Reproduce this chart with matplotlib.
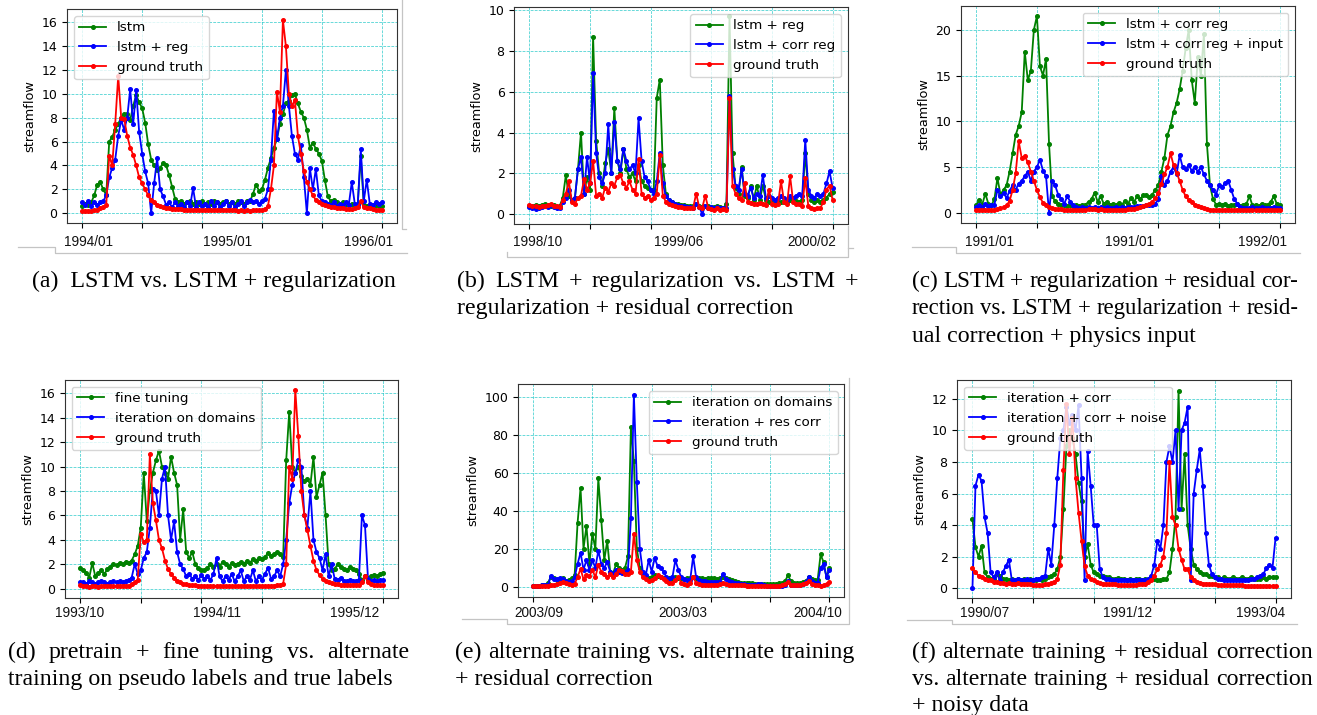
import numpy as np
import matplotlib
matplotlib.use("Agg")
import matplotlib.pyplot as plt
from matplotlib.lines import Line2D

# ---------------- data (101 samples per series) -------------
a_lstm = [0.6, 0.8, 0.7, 0.9, 1.5, 2.4, 2.6, 2.0, 1.5, 6.0,
          6.4, 7.0, 7.5, 8.0, 8.3, 8.3, 7.8, 9.0, 9.9, 9.3,
          8.8, 7.6, 5.8, 4.5, 4.0, 3.6, 3.8, 4.2, 4.0, 3.2,
          2.2, 1.2, 0.9, 1.0, 0.8, 0.9, 1.0, 0.8, 0.9, 0.8,
          1.0, 0.8, 0.9, 0.8, 1.0, 0.9, 0.8, 0.9, 1.0, 0.8,
          0.9, 0.8, 1.0, 0.9, 0.8, 1.0, 1.0, 1.6, 2.4, 1.9,
          2.0, 2.8, 3.8, 4.6, 5.5, 6.2, 7.5, 8.3, 9.2, 9.4,
          9.9, 10.0, 9.2, 8.5, 8.0, 7.0, 5.5, 5.9, 5.4, 5.0,
          4.4, 2.8, 1.4, 1.0, 1.1, 0.9, 0.8, 0.9, 0.8, 0.7,
          0.8, 0.7, 0.8, 4.8, 0.7, 0.6, 0.7, 0.6, 0.7, 0.6, 0.6]
a_lstm_reg = [0.9, 0.7, 1.0, 0.6, 0.9, 0.7, 0.9, 1.0, 1.5, 3.0,
              3.8, 4.5, 6.5, 7.8, 7.0, 8.0, 10.4, 7.5, 10.3, 6.8,
              5.0, 3.5, 2.5, 0.0, 2.5, 4.6, 2.0, 1.4, 0.7, 0.9,
              0.5, 0.9, 0.6, 0.8, 0.5, 0.9, 0.6, 2.1, 0.5, 0.9,
              0.6, 0.8, 0.5, 1.0, 0.6, 0.9, 0.5, 0.8, 1.0, 0.6,
              0.9, 0.5, 0.8, 1.0, 0.6, 0.9, 1.1, 0.9, 1.0, 0.8,
              1.0, 1.2, 2.0, 4.5, 8.6, 6.2, 8.0, 9.0, 12.0, 9.0,
              6.5, 5.0, 4.5, 5.7, 3.0, 0.0, 3.8, 2.0, 3.7, 1.5,
              1.0, 0.9, 0.8, 0.7, 0.9, 0.6, 0.8, 0.7, 0.9, 0.7,
              2.6, 0.8, 0.7, 5.4, 1.0, 2.8, 0.8, 0.7, 0.9, 0.8, 0.9]
a_truth = [0.2, 0.2, 0.2, 0.2, 0.25, 0.3, 0.4, 0.5, 0.7, 4.8,
           4.0, 7.5, 11.5, 8.0, 7.9, 6.5, 5.5, 4.9, 4.0, 3.0,
           2.5, 2.0, 1.5, 1.1, 0.9, 0.7, 0.6, 0.5, 0.45, 0.4,
           0.38, 0.35, 0.33, 0.32, 0.3, 0.3, 0.28, 0.28, 0.27, 0.27,
           0.25, 0.26, 0.25, 0.24, 0.25, 0.24, 0.23, 0.25, 0.24, 0.23,
           0.24, 0.23, 0.22, 0.23, 0.22, 0.23, 0.22, 0.23, 0.24, 0.25,
           0.28, 0.35, 0.6, 2.0, 4.0, 10.2, 8.5, 16.2, 14.0, 10.0,
           9.0, 9.5, 6.5, 5.0, 3.5, 2.6, 2.0, 1.5, 1.1, 0.9,
           0.8, 0.7, 0.62, 0.55, 0.5, 0.45, 0.42, 0.4, 0.38, 0.36,
           0.35, 0.4, 0.5, 1.0, 0.5, 0.45, 0.4, 0.35, 0.3, 0.3, 0.25]

b_reg = [0.4, 0.4, 0.45, 0.4, 0.45, 0.5, 0.45, 0.4, 0.45, 0.35,
         0.4, 0.8, 1.9, 0.9, 0.7, 0.8, 2.2, 4.0, 1.0, 1.8,
         1.2, 8.7, 3.6, 2.0, 1.4, 2.5, 3.2, 2.0, 5.2, 2.6,
         2.0, 3.2, 2.2, 1.8, 2.0, 1.6, 2.4, 1.6, 1.4, 1.3,
         1.2, 1.2, 5.7, 6.6, 2.4, 1.0, 0.7, 0.6, 0.5, 0.5,
         0.45, 0.45, 0.4, 0.4, 0.4, 0.5, 0.4, 0.35, 0.4, 0.4,
         0.35, 0.35, 0.4, 0.35, 0.3, 0.5, 9.7, 3.0, 1.3, 1.0,
         2.3, 0.9, 0.8, 1.4, 0.7, 1.4, 0.7, 1.4, 0.7, 0.6,
         0.6, 0.55, 0.6, 0.6, 0.6, 0.6, 0.7, 0.7, 0.65, 0.6,
         0.7, 3.0, 1.0, 0.7, 0.6, 0.7, 0.6, 0.7, 0.8, 1.0, 1.1]
b_corr_reg = [0.35, 0.3, 0.25, 0.3, 0.35, 0.4, 0.35, 0.45, 0.35, 0.3,
              0.3, 0.6, 0.8, 1.2, 0.7, 0.8, 2.2, 2.8, 1.0, 2.8,
              1.5, 6.9, 3.0, 1.8, 1.5, 2.0, 4.4, 2.0, 4.5, 2.6,
              2.2, 3.2, 2.6, 2.2, 2.4, 2.0, 4.7, 2.6, 1.8, 1.6,
              1.2, 1.0, 1.6, 3.0, 1.5, 0.9, 0.7, 0.6, 0.5, 0.45,
              0.4, 0.4, 0.35, 0.35, 0.3, 0.5, 0.35, 0.0, 0.4, 0.3,
              0.35, 0.3, 0.35, 0.3, 0.3, 0.3, 5.8, 2.2, 1.4, 1.2,
              2.2, 1.0, 0.9, 1.3, 0.8, 1.0, 0.9, 1.9, 0.8, 0.9,
              0.8, 0.7, 0.8, 0.9, 0.8, 0.7, 0.9, 0.8, 0.9, 1.0,
              0.9, 3.65, 1.2, 0.9, 0.8, 1.0, 0.9, 1.0, 1.5, 2.1, 1.3]
b_truth = [0.45, 0.4, 0.38, 0.35, 0.4, 0.38, 0.42, 0.5, 0.4, 0.38,
           0.35, 0.7, 1.0, 1.6, 0.6, 0.5, 0.8, 0.9, 1.7, 1.2,
           1.5, 2.6, 0.9, 1.0, 0.8, 1.3, 1.1, 1.5, 1.4, 1.8,
           1.9, 1.5, 1.3, 1.6, 1.2, 1.0, 2.7, 1.0, 0.8, 0.9,
           0.7, 0.8, 1.0, 2.9, 0.9, 0.6, 0.5, 0.45, 0.4, 0.35,
           0.35, 0.3, 0.3, 0.3, 0.3, 1.0, 0.35, 0.3, 0.9, 0.3,
           0.25, 0.2, 0.3, 0.2, 0.25, 0.2, 5.7, 1.4, 1.0, 0.8,
           0.7, 1.5, 0.6, 0.55, 0.5, 0.5, 0.55, 0.5, 0.45, 1.2,
           0.5, 0.45, 0.5, 1.6, 0.6, 0.5, 1.85, 0.6, 0.5, 0.5,
           0.4, 1.75, 0.4, 0.3, 0.25, 0.3, 0.3, 0.6, 1.2, 1.4, 0.7]

c_corr_reg = [0.8, 1.4, 0.9, 2.1, 1.0, 0.8, 1.5, 3.8, 2.0, 2.5,
              3.0, 4.5, 6.5, 8.5, 9.5, 11.0, 17.6, 14.5, 15.5, 20.0,
              21.5, 16.0, 15.0, 16.8, 7.5, 1.8, 1.3, 1.0, 0.8, 0.8,
              0.7, 0.8, 0.7, 0.8, 0.7, 0.8, 0.9, 1.2, 1.5, 2.2,
              1.2, 1.8, 1.0, 1.2, 0.9, 1.0, 0.8, 1.1, 0.9, 1.3,
              1.0, 1.6, 1.2, 1.8, 1.5, 1.9, 2.0, 1.7, 2.0, 2.5,
              3.0, 4.5, 6.0, 8.5, 9.5, 11.0, 12.0, 13.5, 15.5, 18.0,
              20.0, 14.5, 12.0, 17.0, 15.0, 19.5, 7.5, 3.0, 1.5, 0.9,
              1.0, 0.8, 1.0, 0.7, 0.9, 0.8, 1.0, 0.7, 0.9, 1.0,
              1.8, 0.8, 0.9, 0.7, 1.0, 0.8, 0.9, 1.2, 1.8, 1.0, 0.8]
c_corr_input = [0.6, 0.8, 0.6, 1.0, 0.7, 0.8, 0.9, 2.5, 1.8, 2.2,
                1.6, 2.4, 3.0, 2.5, 3.2, 3.5, 4.0, 4.5, 3.5, 4.5,
                5.0, 5.8, 4.6, 4.0, 0.0, 3.5, 3.0, 2.0, 1.5, 1.0,
                1.8, 1.2, 0.8, 0.6, 0.5, 0.6, 0.5, 0.6, 0.5, 0.6,
                0.5, 0.6, 0.5, 0.6, 0.5, 0.5, 0.6, 0.5, 0.6, 0.5,
                0.6, 0.6, 0.6, 0.7, 0.7, 0.7, 0.8, 0.8, 0.9, 1.0,
                1.5, 4.0, 3.0, 3.5, 4.5, 5.0, 4.2, 6.3, 5.0, 4.8,
                5.2, 4.6, 5.0, 4.5, 5.0, 4.2, 3.5, 3.0, 2.5, 2.0,
                3.0, 2.8, 3.3, 3.5, 2.5, 1.5, 1.0, 0.6, 0.5, 0.5,
                0.5, 0.6, 0.5, 0.5, 0.6, 0.5, 0.5, 0.5, 0.6, 0.5, 0.5]
c_truth = [0.3, 0.3, 0.3, 0.35, 0.3, 0.3, 0.35, 0.4, 0.5, 0.6,
           0.8, 1.3, 2.5, 4.3, 7.8, 6.0, 6.2, 5.5, 4.5, 3.5,
           2.5, 1.7, 1.1, 0.8, 0.6, 0.5, 0.45, 0.4, 0.4, 0.35,
           0.35, 0.3, 0.35, 0.3, 0.3, 0.35, 0.3, 0.4, 0.45, 0.4,
           0.35, 0.4, 0.35, 0.3, 0.35, 0.3, 0.3, 0.35, 0.3, 0.35,
           0.4, 0.4, 0.45, 0.5, 0.6, 0.7, 0.8, 1.0, 1.2, 1.6,
           2.2, 3.2, 4.2, 5.0, 6.5, 5.2, 4.4, 3.5, 2.5, 1.8,
           1.4, 1.2, 0.9, 0.7, 0.6, 0.5, 0.4, 0.35, 0.3, 0.3,
           0.35, 0.3, 0.3, 0.35, 0.3, 0.3, 0.35, 0.3, 0.3, 0.3,
           0.35, 0.3, 0.3, 0.3, 0.35, 0.3, 0.3, 0.3, 0.35, 0.3, 0.35]

d_fine = [1.7, 1.5, 1.3, 0.9, 2.1, 1.0, 1.3, 1.5, 1.2, 1.6,
          1.8, 2.0, 1.9, 2.1, 2.0, 2.2, 2.1, 2.3, 2.8, 3.5,
          5.0, 9.5, 5.5, 8.0, 9.5, 10.5, 11.3, 10.0, 9.5, 9.0,
          10.8, 9.5, 8.5, 4.0, 6.5, 3.0, 2.5, 3.0, 2.0, 1.7,
          1.5, 1.5, 1.7, 2.0, 1.8, 2.0, 1.8, 2.2, 2.0, 1.8,
          2.1, 1.9, 2.0, 2.2, 2.0, 2.3, 2.1, 2.4, 2.3, 2.5,
          2.4, 2.6, 2.9, 2.7, 2.8, 3.0, 2.8, 2.6, 10.5, 14.5,
          10.0, 9.5, 10.0, 9.2, 8.8, 9.0, 8.5, 10.8, 7.5, 8.5,
          9.5, 6.0, 2.0, 1.5, 1.6, 2.0, 1.8, 1.6, 1.5, 1.8,
          1.6, 1.5, 1.2, 0.7, 1.0, 0.9, 1.0, 1.1, 1.0, 1.2, 1.3]
d_iter = [0.5, 0.5, 0.4, 0.6, 0.5, 0.4, 0.5, 0.6, 0.5, 0.4,
          0.5, 0.6, 0.5, 0.6, 0.5, 0.6, 0.7, 0.9, 2.0, 1.2,
          1.5, 2.5, 3.0, 5.0, 8.2, 8.0, 6.0, 9.0, 10.0, 6.0,
          4.0, 5.5, 3.0, 2.0, 1.6, 1.0, 1.2, 0.8, 1.0, 0.7,
          1.1, 0.8, 1.0, 0.7, 1.2, 2.5, 1.0, 0.6, 1.0, 0.7,
          1.2, 0.6, 1.0, 1.5, 0.6, 1.0, 0.7, 1.5, 0.6, 1.0,
          0.7, 1.2, 1.7, 0.8, 1.0, 1.5, 1.0, 2.0, 4.0, 7.0,
          8.5, 9.5, 10.5, 10.0, 6.0, 5.0, 8.0, 4.0, 3.0, 2.5,
          1.5, 2.8, 1.0, 2.0, 0.8, 0.7, 0.9, 0.6, 0.6, 0.7,
          0.6, 0.6, 0.7, 6.0, 5.2, 0.8, 0.6, 0.7, 0.6, 0.7, 0.7]
d_truth = [0.3, 0.25, 0.2, 0.15, 0.2, 0.2, 0.15, 0.2, 0.2, 0.2,
           0.2, 0.2, 0.2, 0.25, 0.2, 0.25, 0.25, 0.4, 0.5, 0.7,
           4.5, 3.8, 4.0, 11.0, 7.0, 5.6, 4.0, 3.3, 2.3, 1.6,
           1.2, 0.9, 0.6, 0.5, 0.4, 0.35, 0.3, 0.3, 0.28, 0.25,
           0.25, 0.22, 0.2, 0.22, 0.2, 0.2, 0.22, 0.2, 0.2, 0.22,
           0.2, 0.2, 0.22, 0.2, 0.2, 0.22, 0.2, 0.2, 0.22, 0.2,
           0.2, 0.22, 0.2, 0.22, 0.25, 0.3, 0.3, 0.4, 2.0, 10.0,
           9.0, 16.3, 12.5, 8.0, 6.0, 4.8, 3.5, 2.3, 1.5, 1.1,
           0.8, 0.6, 0.5, 0.45, 0.4, 0.35, 0.3, 0.3, 0.3, 0.28,
           0.3, 0.28, 0.3, 0.5, 1.0, 0.5, 0.35, 0.3, 0.28, 0.3, 0.3]

e_iter = [0.5, 0.5, 0.6, 0.8, 1.0, 2.0, 5.3, 4.5, 3.5, 4.0,
          4.5, 3.0, 3.5, 4.5, 6.0, 33.5, 52.0, 20.0, 32.0, 12.0,
          28.0, 20.0, 57.0, 35.0, 14.0, 24.0, 8.0, 7.0, 12.0, 10.0,
          9.0, 10.0, 16.0, 84.0, 66.0, 20.0, 10.0, 7.0, 5.0, 4.5,
          5.0, 6.0, 5.5, 5.0, 4.5, 4.5, 4.5, 4.0, 5.0, 4.5,
          4.5, 4.0, 4.5, 4.5, 5.0, 4.5, 4.5, 4.5, 4.0, 4.5,
          4.5, 4.5, 4.0, 4.5, 5.0, 4.5, 4.0, 3.5, 3.0, 2.5,
          2.0, 2.0, 2.0, 2.0, 1.8, 1.5, 1.5, 1.5, 1.5, 1.5,
          1.5, 1.5, 1.5, 1.8, 2.0, 3.0, 6.0, 3.0, 1.8, 1.8,
          2.0, 2.5, 3.0, 5.0, 4.0, 3.5, 3.5, 17.0, 13.0, 5.0, 10.0]
e_rescorr = [0.5, 0.5, 0.6, 0.7, 0.8, 1.0, 5.5, 4.0, 4.0, 4.5,
             4.0, 3.0, 2.5, 3.0, 5.0, 12.0, 18.0, 9.0, 14.0, 9.0,
             14.0, 10.0, 19.0, 12.0, 10.0, 13.0, 8.0, 7.0, 9.0, 8.0,
             7.5, 8.0, 9.0, 36.0, 101.0, 55.0, 20.0, 8.0, 6.0, 14.0,
             8.0, 15.0, 11.0, 10.0, 8.0, 5.0, 4.0, 5.0, 14.0, 9.0,
             5.0, 4.0, 3.5, 3.5, 16.0, 5.0, 3.5, 3.0, 3.0, 2.5,
             2.5, 2.5, 2.5, 2.5, 7.0, 4.0, 3.0, 2.5, 2.0, 1.8,
             1.5, 1.3, 1.2, 1.0, 1.0, 1.2, 1.5, 1.5, 0.8, 0.6,
             0.5, 0.5, 0.5, 0.5, 0.6, 1.0, 3.0, 1.0, 0.8, 0.8,
             1.0, 1.5, 2.5, 5.0, 3.0, 2.0, 2.0, 10.0, 12.0, 5.0, 9.0]
e_truth = [0.3, 0.2, 0.3, 0.4, 0.5, 0.6, 1.0, 1.2, 1.5, 2.0,
           2.5, 2.0, 1.5, 1.0, 1.5, 5.0, 9.5, 4.0, 6.0, 5.5,
           9.0, 5.0, 11.5, 8.0, 6.5, 5.0, 6.5, 5.0, 7.0, 9.0,
           8.5, 7.0, 6.5, 8.0, 28.0, 14.0, 8.0, 5.0, 4.0, 3.0,
           3.5, 4.5, 6.0, 5.0, 4.0, 3.0, 2.0, 1.8, 3.5, 5.0,
           2.0, 1.5, 1.2, 2.0, 5.0, 2.0, 1.5, 1.2, 1.0, 1.0,
           1.2, 1.0, 1.2, 1.5, 2.0, 1.5, 1.2, 1.0, 1.0, 0.8,
           0.8, 0.7, 0.6, 0.5, 0.5, 0.4, 0.4, 0.3, 0.3, 0.3,
           0.3, 0.4, 0.5, 0.6, 1.0, 1.5, 2.5, 1.0, 0.8, 0.8,
           1.0, 1.5, 2.0, 3.0, 1.5, 1.0, 0.8, 0.5, 0.8, 1.5, 2.5]

f_corr = [4.4, 2.6, 2.0, 2.7, 1.0, 0.7, 0.6, 0.6, 0.9, 0.8,
          0.6, 0.6, 0.5, 0.6, 0.5, 0.6, 0.5, 0.6, 0.5, 0.6,
          0.5, 0.5, 0.6, 0.5, 0.6, 0.7, 0.8, 0.9, 1.2, 2.0,
          5.0, 9.0, 10.0, 9.5, 8.5, 6.7, 5.5, 2.0, 2.8, 1.5,
          1.0, 0.9, 0.8, 0.8, 0.7, 0.7, 0.6, 0.6, 0.65, 0.6,
          0.6, 0.55, 0.6, 0.55, 0.6, 0.6, 0.55, 0.6, 0.55, 0.6,
          0.6, 0.55, 0.5, 0.6, 0.6, 1.0, 2.5, 4.5, 12.5, 5.0,
          8.5, 4.0, 2.5, 1.5, 1.2, 1.0, 0.9, 0.9, 0.8, 0.8,
          0.7, 0.7, 0.6, 0.7, 0.6, 0.6, 0.7, 0.6, 0.6, 0.7,
          0.6, 0.6, 0.7, 0.6, 0.6, 0.6, 0.7, 0.6, 0.7, 0.7, 0.7]
f_noise = [0.0, 6.5, 7.2, 6.8, 4.5, 3.5, 1.0, 0.7, 1.0, 0.5,
           1.0, 1.4, 1.8, 0.5, 0.5, 0.6, 0.5, 0.5, 0.6, 0.5,
           0.5, 0.6, 0.6, 0.7, 0.8, 2.5, 1.5, 4.0, 7.0, 9.5,
           10.0, 11.5, 10.5, 11.0, 10.0, 11.6, 7.0, 0.5, 8.7, 6.5,
           4.0, 4.0, 1.2, 0.7, 0.6, 0.6, 0.5, 0.55, 0.5, 0.5,
           0.55, 0.5, 0.5, 0.55, 0.5, 0.5, 0.55, 0.5, 0.6, 0.8,
           1.5, 3.0, 2.5, 4.0, 8.0, 9.0, 8.0, 10.0, 5.0, 10.0,
           10.5, 11.5, 0.5, 6.0, 7.5, 8.8, 6.5, 3.5, 1.5, 0.9,
           0.7, 0.6, 0.6, 0.55, 0.5, 0.55, 0.5, 0.5, 0.55, 0.5,
           0.55, 0.5, 0.6, 0.6, 0.7, 0.8, 0.9, 1.3, 1.5, 1.3, 3.2]
f_truth = [1.3, 1.0, 0.8, 0.7, 0.6, 0.5, 0.5, 0.4, 0.4, 0.35,
           0.35, 0.3, 0.35, 0.3, 0.3, 0.35, 0.3, 0.3, 0.25, 0.25,
           0.2, 0.2, 0.2, 0.2, 0.25, 0.3, 0.35, 0.4, 0.6, 1.5,
           7.5, 11.7, 8.5, 10.8, 7.0, 4.8, 3.0, 1.4, 0.8, 0.6,
           0.5, 0.4, 0.35, 0.3, 0.3, 0.28, 0.25, 0.25, 0.22, 0.22,
           0.2, 0.2, 0.22, 0.2, 0.22, 0.25, 0.28, 0.3, 0.4, 0.5,
           0.8, 1.2, 1.5, 2.0, 3.5, 8.0, 4.5, 4.0, 2.5, 1.8,
           1.2, 1.2, 0.7, 0.5, 0.4, 0.35, 0.3, 0.3, 0.28, 0.25,
           0.25, 0.22, 0.2, 0.2, 0.2, 0.2, 0.18, 0.18, 0.18, 0.18,
           0.15, 0.15, 0.15, 0.15, 0.15, 0.15, 0.15, 0.15, 0.15, 0.15, 0.15]

legend_labels = {
    'a': ['lstm', 'lstm + reg', 'ground truth'],
    'b': ['lstm + reg', 'lstm + corr reg', 'ground truth'],
    'c': ['lstm + corr reg', 'lstm + corr reg + input', 'ground truth'],
    'd': ['fine tuning', 'iteration on domains', 'ground truth'],
    'e': ['iteration on domains', 'iteration + res corr', 'ground truth'],
    'f': ['iteration + corr', 'iteration + corr + noise', 'ground truth'],
}
date_labels = {
    'a': ['1994/01', '1995/01', '1996/01'],
    'b': ['1998/10', '1999/06', '2000/02'],
    'c': ['1991/01', '1991/01', '1992/01'],
    'd': ['1993/10', '1994/11', '1995/12'],
    'e': ['2003/09', '2003/03', '2004/10'],
    'f': ['1990/07', '1991/12', '1993/04'],
}
series = {
    'a': [a_lstm, a_lstm_reg, a_truth],
    'b': [b_reg, b_corr_reg, b_truth],
    'c': [c_corr_reg, c_corr_input, c_truth],
    'd': [d_fine, d_iter, d_truth],
    'e': [e_iter, e_rescorr, e_truth],
    'f': [f_corr, f_noise, f_truth],
}
yticks = {
    'a': np.arange(0, 17, 2), 'b': np.arange(0, 11, 2), 'c': np.arange(0, 21, 5),
    'd': np.arange(0, 17, 2), 'e': np.arange(0, 101, 20), 'f': np.arange(0, 13, 2),
}

# ---------------- layout (pixels) ----------------
W, H = 1317, 715
fig = plt.figure(figsize=(W / 100, H / 100), dpi=100)

layout = {
    #      left,  top,  right, bottom, ylim,            legend loc
    'a': (67.3, 9.3, 396.7, 222.7, (-0.8, 17.1), 'upper left'),
    'b': (514.3, 7.3, 847.7, 224.0, (-0.49, 10.15), 'upper right'),
    'c': (961.0, 6.0, 1295.0, 222.7, (-1.08, 22.6), 'upper right'),
    'd': (65.0, 380.0, 398.3, 597.7, (-0.75, 17.1), 'upper left'),
    'e': (518.3, 384.3, 844.3, 596.7, (-5.2, 106.5), 'upper right'),
    'f': (957.3, 380.0, 1290.7, 597.7, (-0.6, 13.2), 'upper left'),
}
date_pos = {
    'a': ([88.3, 227.5, 369.0], 242.3),
    'b': ([537.7, 678.3, 811.7], 242.3),
    'c': ([990.0, 1130.0, 1262.7], 242.3),
    'd': ([80.0, 217.2, 354.3], 613.3),
    'e': ([538.7, 683.3, 817.7], 613.3),
    'f': ([984.7, 1127.7, 1261.0], 613.3),
}
colors = ['green', 'blue', 'red']

for key, (l, t, r, b, ylim, loc) in layout.items():
    ax = fig.add_axes([l / W, 1 - b / H, (r - l) / W, (b - t) / H])
    ax.set_axisbelow(True)
    n = len(series[key][0])
    x = np.arange(n)
    for vals, col, lab in zip(series[key], colors, legend_labels[key]):
        ax.plot(x, vals, '-', marker='.', color=col, lw=1.3, ms=5.2, label=lab)
    ax.set_xticks(np.linspace(0, n - 1, 6))
    ax.set_xticklabels([])
    ax.set_yticks(yticks[key])
    ax.set_ylim(*ylim)
    ax.tick_params(labelsize=9.0, length=3.5, width=0.8)
    ax.grid(True, color='c', linestyle='--', linewidth=0.55, alpha=0.75)
    ax.set_ylabel('streamflow', fontsize=9.3)
    for s in ax.spines.values():
        s.set_color('#333333')
    ax.legend(loc=loc, fontsize=9.7, framealpha=0.8, numpoints=1)
    xs, yy = date_pos[key]
    for xc, lab in zip(xs, date_labels[key]):
        fig.text(xc / W, 1 - yy / H, lab, ha='center', va='center',
                 fontsize=9.8, family='Liberation Sans', color='#111111')

# ---------------- screenshot frame artefacts ----------------
frame_lines = [
    [(18, 246.7), (55, 246.7), (55, 253.3), (406.7, 253.3)],
    [(401.7, 0), (401.7, 229), (406, 229)],
    [(506.7, 252), (506.7, 256.7), (848.3, 256.7), (848.3, 226), ],
    [(848.3, 248), (853, 248)],
    [(911.7, 246.7), (956, 246.7), (956, 253.3), (1300, 253.3)],
    [(461.7, 619), (506.7, 619), (506.7, 624.3), (849.3, 624.3), (849.3, 378)],
    [(906.7, 620), (951.7, 620), (951.7, 624.3), (1296.7, 624.3)],
]
for pts in frame_lines:
    xs = [p[0] / W for p in pts]
    ys = [1 - p[1] / H for p in pts]
    fig.add_artist(Line2D(xs, ys, color='#c4c4c4', lw=0.9, transform=fig.transFigure))

# ---------------- captions ----------------
CAP_FS = 17.2
MIN_GAP = 5.5
renderer = fig.canvas.get_renderer()


def cap_line(text, left, base, right=None):
    if right is None:
        fig.text(left / W, 1 - base / H, text, fontsize=CAP_FS, family='Liberation Serif',
                 ha='left', va='baseline')
        return
    words = text.split()
    objs = [fig.text(0, 0, w, fontsize=CAP_FS, family='Liberation Serif',
                     ha='left', va='baseline') for w in words]
    widths = [o.get_window_extent(renderer).width for o in objs]
    avail = right - left - MIN_GAP * (len(words) - 1)
    if sum(widths) > avail:
        scale = avail / sum(widths)
        for o in objs:
            o.set_fontsize(CAP_FS * scale)
        widths = [o.get_window_extent(renderer).width for o in objs]
    gap = (right - left - sum(widths)) / (len(words) - 1)
    xpos = left
    for o, w in zip(objs, widths):
        o.set_position((xpos / W, 1 - base / H))
        xpos += w + gap


cap_line('(a)  LSTM vs. LSTM + regularization', 31.7, 287.3)
cap_line('(b) LSTM + regularization vs. LSTM +', 457.3, 287.3, 858.3)
cap_line('regularization + residual correction', 457.3, 314.3)
cap_line('(c) LSTM + regularization + residual cor-', 911.7, 287.3, 1298.3)
cap_line('rection vs. LSTM + regularization + resid-', 911.7, 314.3, 1298.3)
cap_line('ual correction + physics input', 911.7, 341.7)
cap_line('(d) pretrain + fine tuning vs. alternate', 8.3, 658.3, 409.3)
cap_line('training on pseudo labels and true labels', 8.3, 684.7)
cap_line('(e) alternate training vs. alternate training', 455.0, 658.3, 855.0)
cap_line('+ residual correction', 455.0, 684.7)
cap_line('(f) alternate training + residual correction', 911.7, 658.3, 1313.3)
cap_line('vs. alternate training + residual correction', 911.7, 684.7, 1313.3)
cap_line('+ noisy data', 911.7, 711.5)

fig.savefig('out.png', dpi=100)
